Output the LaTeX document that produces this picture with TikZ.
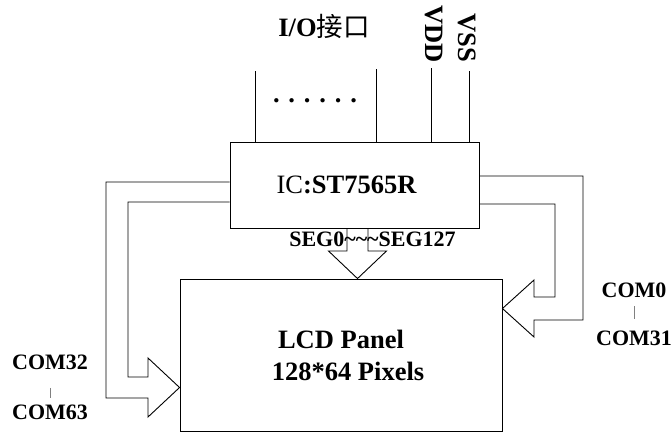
\documentclass[tikz,border=0pt]{standalone}
\usepackage{fontspec}
\setmainfont{Liberation Serif}
\newfontfamily\cjk{Noto Sans CJK SC}

\tikzset{
  wire/.style={draw, line width=0.9pt},
  boxnode/.style={draw, line width=0.9pt, inner sep=0pt},
  bigtxt/.style={font=\fontsize{26.5}{30}\selectfont\bfseries, inner sep=0pt},
  smalltxt/.style={font=\fontsize{22}{26}\selectfont\bfseries, inner sep=2pt},
  bar/.style={draw=gray, line width=0.7pt}
}

\begin{document}
\begin{tikzpicture}[x=1pt, y=-1pt]
    \useasboundingbox (0,0) rectangle (672,432);

    % Controller chip and panel
    \node[boxnode, minimum width=249pt, minimum height=86pt] (ic) at (354.5,185) {};
    \node[bigtxt, anchor=base] (icname) at (346.5,193) {{\mdseries IC}:ST7565R};
    \node[boxnode, minimum width=322pt, minimum height=152pt] (lcd) at (341,355) {};
    \node[bigtxt, anchor=base] (lcdname) at (341,348) {LCD Panel};
    \node[bigtxt, anchor=base] (lcdsize) at (348,380) {128*64 Pixels};

    % Pins on top of the chip
    \foreach \name/\x/\y in {ioa/255/71, iob/376/69, vdd/431/68, vss/469/71} {
        \coordinate (pin\name) at (\x,\y);
        \draw[wire] (pin\name) -- (pin\name |- ic.north);
    }
    \node[bigtxt, anchor=base] (iolabel) at (324,36) {I/O{\cjk\mdseries 接口}};
    \node[bigtxt, anchor=base] (dots) at (315,102) {. . . . . .};
    \node[bigtxt, rotate=-90] (vddlabel) at (434,34) {VDD};
    \node[bigtxt, rotate=-90] (vsslabel) at (467.5,37.5) {VSS};

    % Segment bus
    \draw[wire] (ic.south -| 347,0) -- (347,251) -- (328.5,251) -- (lcd.north -| 357.5,0)
        -- (386.5,251) -- (368,251) -- (ic.south -| 368,0);
    \node[smalltxt, anchor=base] (seglabel) at (372.5,246) {SEG0\textasciitilde\textasciitilde\textasciitilde SEG127};

    % Common bus, right side
    \draw[wire] (ic.east |- 0,176) -| (583,320) -- (534,320) -- (534,337) -- (lcd.east |- 0,308.5)
        -- (534,280) -- (534,297) -| (555,204) -- (ic.east |- 0,204);
    \node[smalltxt, anchor=base] (com0) at (634,297) {COM0};
    \node[smalltxt, anchor=base] (com31) at (634,345) {COM31};
    \draw[bar, shorten <=7pt, shorten >=9pt] (com0) -- (com31);

    % Common bus, left side
    \draw[wire] (ic.west |- 0,182) -| (106,398) -- (148,398) -- (148,417) -- (lcd.west |- 0,387.5)
        -- (148,358) -- (148,377) -| (128,202) -- (ic.west |- 0,202);
    \node[smalltxt, anchor=base] (com32) at (50,369.5) {COM32};
    \node[smalltxt, anchor=base] (com63) at (50,419) {COM63};
    \draw[bar, shorten <=16pt, shorten >=4pt] (com32) -- (com63);
\end{tikzpicture}
\end{document}
